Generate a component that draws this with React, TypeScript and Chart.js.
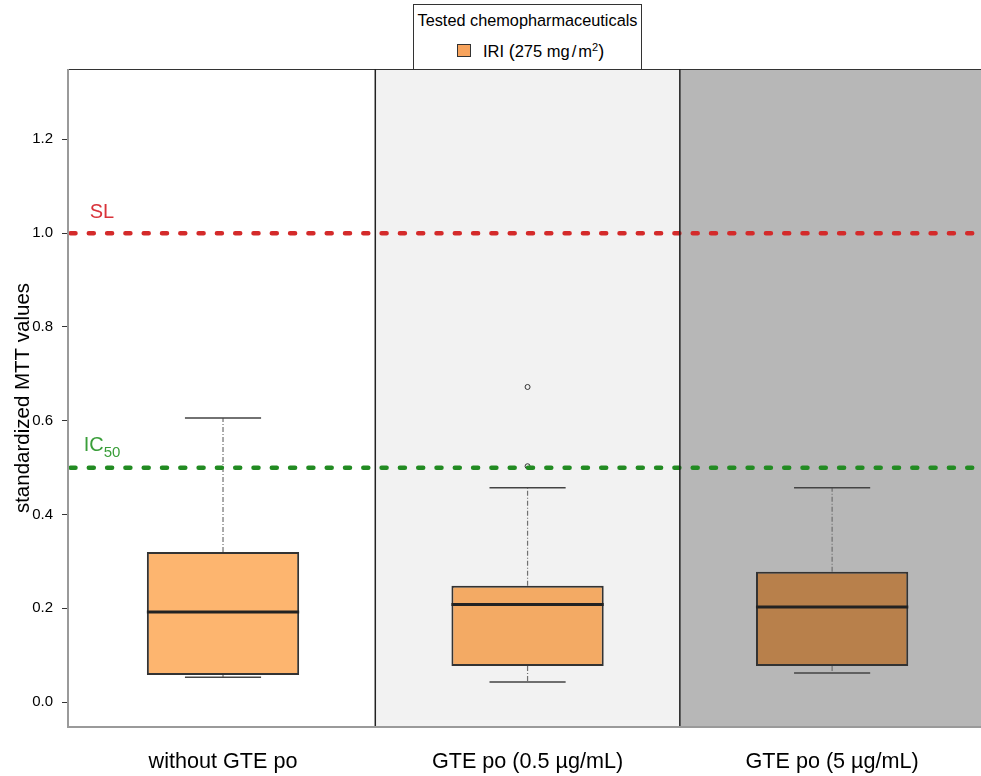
import React, { useEffect, useRef } from 'react';
import { Chart, registerables } from 'chart.js';

Chart.register(...registerables);

const FONT = '"Liberation Sans", Arial, sans-serif';

const categories = ['without GTE po', 'GTE po (0.5 µg/mL)', 'GTE po (5 µg/mL)'];
const positions = [1, 2, 3];
const whiskerLow = [0.053, 0.043, 0.062];
const q1 = [0.058, 0.077, 0.077];
const median = [0.192, 0.208, 0.203];
const q3 = [0.320, 0.248, 0.278];
const whiskerHigh = [0.606, 0.457, 0.457];
const outlierX = [2, 2];
const outlierY = [0.672, 0.503];
const yTicks = [0, 0.2, 0.4, 0.6, 0.8, 1.0, 1.2];
const refValues = [1.0, 0.5];
const refMain = ['SL', 'IC'];
const refSub = ['', '50'];
const refLabelY = [1.043, 0.547];
const refLineColors = ['#d42a2a', '#228b22'];
const refTextColors = ['#d9333a', '#3a9e3a'];
const boxColors = ['#fdb56f', '#f3aa64', '#b8804b'];
const panelColors = ['#ffffff', '#f2f2f2', '#b7b7b7'];

const boxPlugin = {
  id: 'boxPlugin',
  beforeDatasetsDraw(chart: any) {
    const { ctx, chartArea, scales } = chart;
    const xs = scales.x;
    ctx.save();
    ctx.beginPath();
    ctx.rect(chartArea.left, chartArea.top, chartArea.right - chartArea.left, chartArea.bottom - chartArea.top);
    ctx.clip();
    positions.forEach((p, i) => {
      const l = Math.max(chartArea.left, xs.getPixelForValue(p - 0.5));
      const r = Math.min(chartArea.right, xs.getPixelForValue(p + 0.5));
      ctx.fillStyle = panelColors[i];
      ctx.fillRect(l, chartArea.top, r - l, chartArea.bottom - chartArea.top);
    });
    ctx.restore();
  },
  afterDatasetsDraw(chart: any) {
    const { ctx, chartArea, scales } = chart;
    const xs = scales.x;
    const ys = scales.y;
    const meta = chart.getDatasetMeta(0);
    ctx.save();
    positions.forEach((p, i) => {
      const bar = meta.data[i];
      const cx = xs.getPixelForValue(p);
      const half = bar.width / 2;
      const capHalf = half / 2;
      ctx.strokeStyle = '#707070';
      ctx.lineWidth = 1.2;
      ctx.setLineDash([5, 2, 1, 2]);
      ctx.beginPath();
      ctx.moveTo(cx, ys.getPixelForValue(q3[i]));
      ctx.lineTo(cx, ys.getPixelForValue(whiskerHigh[i]));
      ctx.moveTo(cx, ys.getPixelForValue(q1[i]));
      ctx.lineTo(cx, ys.getPixelForValue(whiskerLow[i]));
      ctx.stroke();
      ctx.setLineDash([]);
      ctx.strokeStyle = '#444';
      ctx.lineWidth = 1.5;
      ctx.beginPath();
      const yh = ys.getPixelForValue(whiskerHigh[i]);
      const yl = ys.getPixelForValue(whiskerLow[i]);
      ctx.moveTo(cx - capHalf, yh);
      ctx.lineTo(cx + capHalf, yh);
      ctx.moveTo(cx - capHalf, yl);
      ctx.lineTo(cx + capHalf, yl);
      ctx.stroke();
      ctx.strokeStyle = '#222';
      ctx.lineWidth = 3;
      ctx.beginPath();
      const ym = ys.getPixelForValue(median[i]);
      ctx.moveTo(cx - half, ym);
      ctx.lineTo(cx + half, ym);
      ctx.stroke();
    });
    refValues.forEach((v, i) => {
      const y = ys.getPixelForValue(v);
      ctx.strokeStyle = refLineColors[i];
      ctx.lineWidth = 4.5;
      ctx.lineCap = 'round';
      ctx.setLineDash([5, 13.3]);
      ctx.lineDashOffset = -2.5;
      ctx.beginPath();
      ctx.moveTo(chartArea.left, y);
      ctx.lineTo(chartArea.right, y);
      ctx.stroke();
    });
    ctx.setLineDash([]);
    ctx.lineCap = 'butt';
    refValues.forEach((v, i) => {
      const y = ys.getPixelForValue(refLabelY[i]);
      ctx.fillStyle = refTextColors[i];
      ctx.textBaseline = 'middle';
      ctx.textAlign = 'left';
      ctx.font = `20px ${FONT}`;
      const w = ctx.measureText(refMain[i]).width;
      ctx.font = `15px ${FONT}`;
      const ws = refSub[i] ? ctx.measureText(refSub[i]).width : 0;
      const x0 = chartArea.left + 34 - (w + ws) / 2;
      ctx.font = `20px ${FONT}`;
      ctx.fillText(refMain[i], x0, y);
      if (refSub[i]) {
        ctx.font = `15px ${FONT}`;
        ctx.fillText(refSub[i], x0 + w, y + 7);
      }
    });
    ctx.strokeStyle = '#333';
    ctx.lineWidth = 1;
    ctx.beginPath();
    ctx.moveTo(chartArea.left, chartArea.top + 0.5);
    ctx.lineTo(chartArea.right, chartArea.top + 0.5);
    ctx.stroke();
    ctx.strokeStyle = '#222';
    ctx.lineWidth = 1.5;
    [1.5, 2.5].forEach((v) => {
      const x = xs.getPixelForValue(v);
      ctx.beginPath();
      ctx.moveTo(x, chartArea.top);
      ctx.lineTo(x, chartArea.bottom);
      ctx.stroke();
    });
    ctx.strokeStyle = '#9a9a9a';
    ctx.lineWidth = 2;
    ctx.beginPath();
    ctx.moveTo(chartArea.left, chartArea.top);
    ctx.lineTo(chartArea.left, chartArea.bottom);
    ctx.lineTo(chartArea.right, chartArea.bottom);
    ctx.stroke();
    ctx.restore();
  },
};

export default function App() {
  const ref = useRef<HTMLCanvasElement>(null);
  useEffect(() => {
    if (!ref.current) return;
    const chart = new Chart(ref.current, {
      type: 'bar',
      data: {
        datasets: [
          {
            type: 'bar',
            data: positions.map((x, i) => ({ x, y: [q1[i], q3[i]] })) as any,
            backgroundColor: boxColors,
            borderColor: '#333',
            borderWidth: 2,
            borderSkipped: false,
            barPercentage: 0.5,
            categoryPercentage: 1,
          } as any,
          {
            type: 'scatter',
            data: outlierX.map((x, i) => ({ x, y: outlierY[i] })),
            pointRadius: 2.5,
            pointBorderColor: '#333',
            pointBackgroundColor: 'rgba(0,0,0,0)',
            pointBorderWidth: 1,
          } as any,
        ],
      },
      options: {
        responsive: false,
        animation: false,
        layout: { padding: { top: 69, left: 0, right: 0, bottom: 0 } },
        plugins: { legend: { display: false }, tooltip: { enabled: false } },
        scales: {
          x: {
            type: 'linear',
            min: 0.491,
            max: 3.502,
            offset: false,
            afterBuildTicks: (s: any) => {
              s.ticks = positions.map((v) => ({ value: v }));
            },
            afterFit: (s: any) => {
              s.height = 49;
            },
            grid: { display: false, drawTicks: false, tickLength: 0 },
            border: { display: false },
            ticks: {
              autoSkip: false,
              maxRotation: 0,
              padding: 22,
              color: '#000',
              font: { family: FONT, size: 21.6 },
              callback: (v: any) => {
                const k = positions.indexOf(Number(v));
                return k >= 0 ? categories[k] : '';
              },
            },
          } as any,
          y: {
            min: -0.053,
            max: 1.35,
            afterBuildTicks: (s: any) => {
              s.ticks = yTicks.map((v) => ({ value: v }));
            },
            afterFit: (s: any) => {
              s.width = 68;
            },
            grid: { drawOnChartArea: false, drawTicks: true, tickLength: 6, color: '#333' },
            border: { display: false },
            ticks: {
              padding: 9,
              color: '#000',
              font: { family: FONT, size: 15 },
              callback: (v: any) => Number(v).toFixed(1),
            },
            title: {
              display: true,
              text: 'standardized MTT values',
              color: '#000',
              font: { family: FONT, size: 20.5 },
              padding: { top: 11, bottom: 0 },
            },
          } as any,
        },
      } as any,
      plugins: [boxPlugin],
    });
    return () => chart.destroy();
  }, []);

  return (
    <div style={{ position: 'absolute', left: 0, top: 0, width: 981, height: 776, overflow: 'hidden', background: '#fff' }}>
      <canvas ref={ref} width={990} height={776} style={{ width: 990, height: 776, display: 'block' }} />
      <div
        style={{
          position: 'absolute',
          left: 413,
          top: 4,
          width: 229,
          height: 66,
          border: '1px solid #333',
          background: '#fff',
          boxSizing: 'border-box',
          fontFamily: FONT,
          color: '#000',
        }}
      >
        <div style={{ position: 'absolute', top: 6, left: 0, width: '100%', textAlign: 'center', fontSize: 16.3, lineHeight: '18px', whiteSpace: 'nowrap' }}>
          Tested chemopharmaceuticals
        </div>
        <div style={{ position: 'absolute', left: 43, top: 39, width: 12, height: 11, border: '1px solid #333', background: '#f7a35c' }} />
        <div style={{ position: 'absolute', left: 69, top: 36, fontSize: 16.5, lineHeight: '20px', whiteSpace: 'nowrap' }}>
          IRI <span style={{ fontSize: 18 }}>(</span>275 mg<span style={{ margin: '0 2px' }}>/</span>m
          <sup style={{ fontSize: 11, lineHeight: 0 }}>2</sup>
          <span style={{ fontSize: 18 }}>)</span>
        </div>
      </div>
    </div>
  );
}
